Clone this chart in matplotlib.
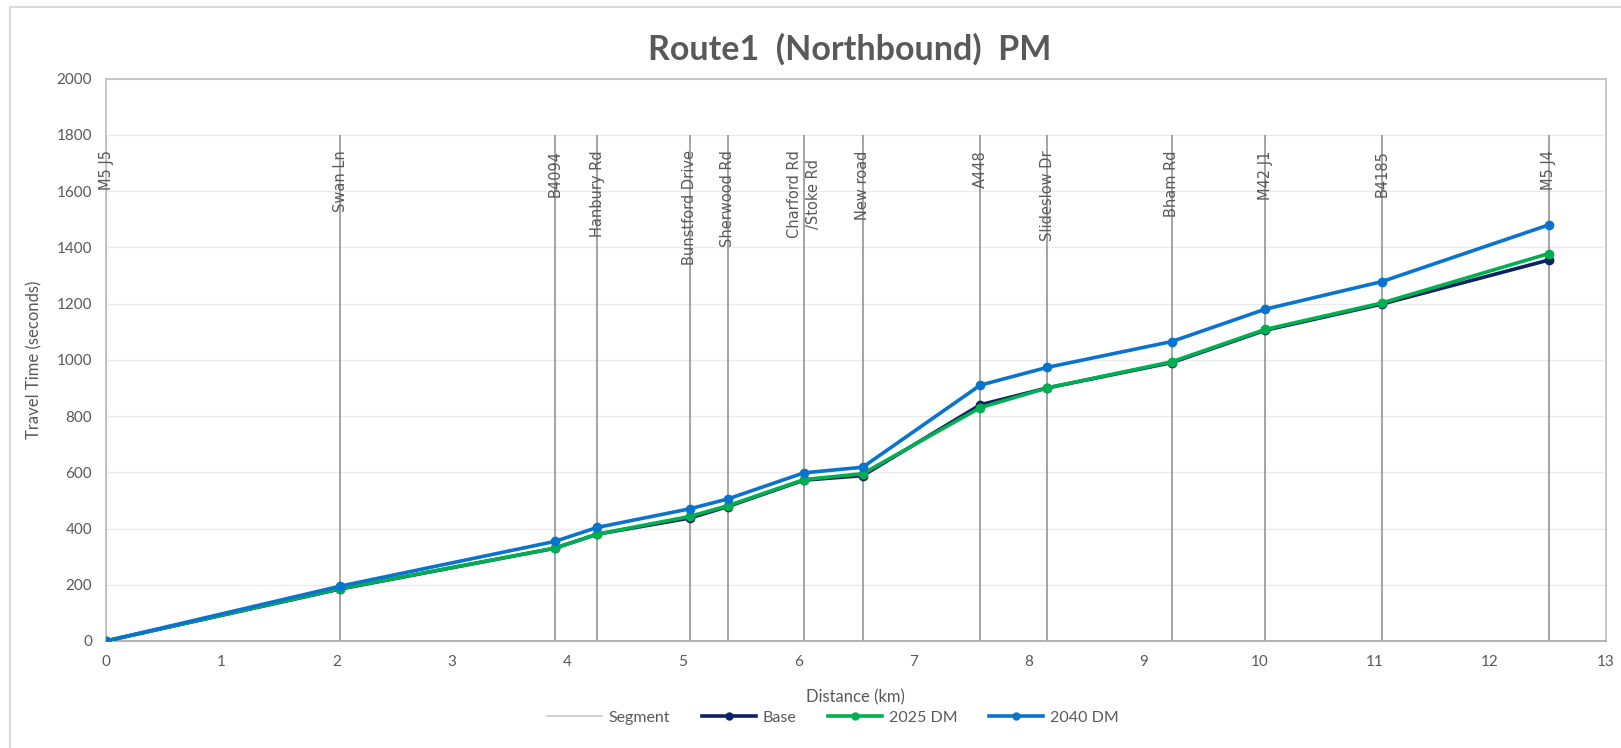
import matplotlib
matplotlib.use("Agg")
import matplotlib.pyplot as plt
from matplotlib.lines import Line2D
from matplotlib.patches import Rectangle

# Junctions along the route and their cumulative distance
junctions = ["M5 J5", "Swan Ln", "B4094", "Hanbury Rd", "Bunstford Drive",
             "Sherwood Rd", "Charford Rd\n/Stoke Rd", "New road", "A448",
             "Slideslow Dr", "Bham Rd", "M42 J1", "B4185", "M5 J4"]
distance_km = [0, 2.03, 3.89, 4.26, 5.06, 5.39, 6.05, 6.56, 7.58, 8.16,
               9.24, 10.05, 11.06, 12.51]

# Cumulative travel time (seconds) per scenario
base = [0, 185, 330, 380, 437, 478, 572, 588, 840, 900, 990, 1105, 1198, 1355]
dm_2025 = [0, 186, 330, 380, 443, 481, 574, 595, 830, 900, 993, 1108, 1202, 1378]
dm_2040 = [0, 195, 354, 404, 470, 505, 598, 618, 910, 973, 1065, 1180, 1278, 1480]

segment_top = 1800
label_top = 1745
y_ticks = list(range(0, 2001, 200))
x_ticks = list(range(0, 14))

series = [("Base", base, "#0D2266"),
          ("2025 DM", dm_2025, "#00B050"),
          ("2040 DM", dm_2040, "#0A74CC")]

W, H = 1621, 748
fig = plt.figure(figsize=(W / 100, H / 100), dpi=100)
fig.patch.set_facecolor("white")

# outer chart frame
fig.add_artist(Rectangle((10 / W, -0.05), 1.2, 1 - 6.5 / H + 0.05,
                         transform=fig.transFigure, fill=False,
                         edgecolor="#D9D9D9", linewidth=1.5))

ax = fig.add_axes([106 / W, 1 - 641 / H, (1605.5 - 106) / W, (641 - 78.6) / H])
ax.set_xlim(0, 13)
ax.set_ylim(0, 2000)
ax.set_xticks(x_ticks)
ax.set_yticks(y_ticks)
ax.grid(axis="y", color="#EBEBEB", linewidth=1)
ax.set_axisbelow(True)
for side, sp in ax.spines.items():
    sp.set_color("#BFBFBF")
    sp.set_linewidth(1.2)
ax.spines["bottom"].set_color("#A6A6A6")
ax.tick_params(length=0, labelsize=11, labelcolor="#595959", pad=10)
for lab in ax.get_xticklabels() + ax.get_yticklabels():
    lab.set_fontfamily("Lato")

# junction marker lines with their names
ax.vlines(distance_km, 0, segment_top, color="#8C8C8C", linewidth=1.1, zorder=2)
for x, name in zip(distance_km, junctions):
    ax.text(x, label_top, name, rotation=90, ha="center", va="top",
            multialignment="center", fontsize=10.5, color="#595959",
            family="DejaVu Sans", zorder=3, linespacing=1.3)

for name, vals, col in series:
    ax.plot(distance_km, vals, color=col, linewidth=2.6, marker="o",
            markersize=6, zorder=4, solid_capstyle="round")

fig.text(850 / W, 1 - 49 / H, "Route1  (Northbound)  PM", ha="center",
         va="center", fontsize=24.5, fontweight="bold", color="#595959",
         family="Lato")
fig.text(855 / W, 1 - 697 / H, "Distance (km)", ha="center", va="center",
         fontsize=12, color="#595959", family="Lato")
fig.text(34 / W, 1 - 360 / H, "Travel Time (seconds)", ha="center",
         va="center", rotation=90, fontsize=12, color="#595959", family="Lato")

handles = [Line2D([], [], color="#C8C8C8", linewidth=1.2)]
labels = ["Segment"]
for name, vals, col in series:
    handles.append(Line2D([], [], color=col, linewidth=2.6, marker="o",
                          markersize=5))
    labels.append(name)
fig.legend(handles, labels, loc="center", bbox_to_anchor=(833 / W, 1 - 718 / H),
           ncol=4, frameon=False, handlelength=3.4, columnspacing=2.0,
           handletextpad=0.4, prop={"family": "Lato", "size": 11.5},
           labelcolor="#595959")

fig.savefig("out.png", dpi=100)
